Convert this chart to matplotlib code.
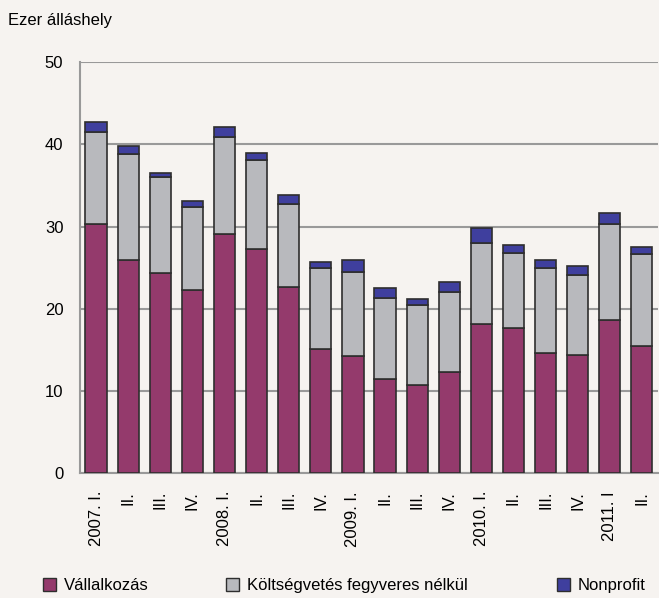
import matplotlib
matplotlib.use("Agg")
import matplotlib.pyplot as plt
from matplotlib.patches import Patch

plt.rcParams['font.family'] = ['Liberation Sans', 'DejaVu Sans']

# --- Data (thousand job openings) ---
quarters = ["2007. I.", "II.", "III.", "IV.",
            "2008. I.", "II.", "III.", "IV.",
            "2009. I.", "II.", "III.", "IV.",
            "2010. I.", "II.", "III.", "IV.",
            "2011. I", "II."]
vallalkozas = [30.3, 25.9, 24.3, 22.3, 29.1, 27.3, 22.7, 15.1, 14.2,
               11.4, 10.7, 12.3, 18.1, 17.6, 14.6, 14.4, 18.6, 15.4]
koltsegvetes = [11.2, 12.9, 11.7, 10.1, 11.8, 10.8, 10.1, 9.8, 10.3,
                9.9, 9.7, 9.7, 9.9, 9.2, 10.4, 9.7, 11.7, 11.2]
nonprofit = [1.2, 1.0, 0.5, 0.7, 1.2, 0.9, 1.0, 0.8, 1.4,
             1.2, 0.8, 1.2, 1.8, 0.9, 0.9, 1.1, 1.4, 0.9]

series_names = ["Vállalkozás", "Költségvetés fegyveres nélkül", "Nonprofit"]
colors = ["#943a6c", "#b8b9bd", "#3f3f9e"]
BG = "#f6f3f0"
FS = 12

fig = plt.figure(figsize=(6.59, 5.98), dpi=100, facecolor=BG)
ax = fig.add_axes([0.1214, 0.209, 0.877, 0.687], facecolor=BG)

x = list(range(len(quarters)))
bottom2 = vallalkozas
bottom3 = [a + b for a, b in zip(vallalkozas, koltsegvetes)]
for vals, bot, c in [(vallalkozas, None, colors[0]),
                     (koltsegvetes, bottom2, colors[1]),
                     (nonprofit, bottom3, colors[2])]:
    ax.bar(x, vals, bottom=bot, width=0.66, color=c,
           edgecolor="#2e2e2e", linewidth=1.2, zorder=3)

ax.set_xlim(-0.5, len(quarters) - 0.5)
ax.set_ylim(0, 50)
ax.set_yticks([0, 10, 20, 30, 40, 50])
ax.grid(axis="y", color="#999999", linewidth=1.5, zorder=0)
for s in ["top", "right"]:
    ax.spines[s].set_visible(False)
for s in ["left", "bottom"]:
    ax.spines[s].set_color("#999999")
    ax.spines[s].set_linewidth(1.5)
ax.tick_params(axis="y", length=0, pad=12, labelsize=FS)
ax.tick_params(axis="x", length=0, pad=13, labelsize=FS)
ax.set_xticks(x)
ax.set_xticklabels(quarters, rotation=90, va="top")

fig.text(0.012, 0.966, "Ezer álláshely", fontsize=FS, ha="left", va="center")

# legend: three separate entries spread along the bottom
anchors = [0.065, 0.343, 0.845]
for name, c, ax_x in zip(series_names, colors, anchors):
    fig.legend(handles=[Patch(facecolor=c, edgecolor="#2e2e2e", linewidth=1.0)],
               labels=[name], loc="center left",
               bbox_to_anchor=(ax_x, 0.021), frameon=False,
               fontsize=FS, handlelength=0.8, handleheight=0.8,
               handletextpad=0.45, borderaxespad=0, borderpad=0)

fig.savefig("out.png", dpi=100, facecolor=BG)
